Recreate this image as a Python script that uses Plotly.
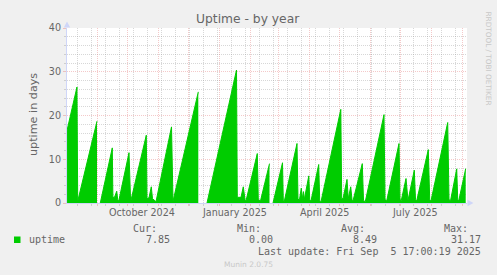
import plotly.graph_objects as go

# ---------------- data ----------------
dates = [
    "2024-08-01 18:00", "2024-08-11 16:00", "2024-08-12 10:00", "2024-08-31 17:00",
    "2024-09-01 12:00",
    "2024-09-04 00:00", "2024-09-16 00:00", "2024-09-16 14:00", "2024-09-18 05:00",
    "2024-09-20 10:00", "2024-09-21 10:00", "2024-09-22 10:00", "2024-10-02 17:00",
    "2024-10-04 08:00", "2024-10-20 00:00", "2024-10-20 17:00", "2024-10-22 17:00",
    "2024-10-25 00:00", "2024-10-26 05:00", "2024-10-29 17:00", "2024-11-14 05:00",
    "2024-11-15 17:00", "2024-12-11 00:00",
    "2024-12-13 00:00",
    "2024-12-19 17:00", "2025-01-18 05:00", "2025-01-19 00:00", "2025-01-22 17:00",
    "2025-01-25 00:00", "2025-01-26 17:00", "2025-01-27 17:00", "2025-02-08 00:00",
    "2025-02-09 00:00", "2025-02-11 05:00", "2025-02-20 05:00",
    "2025-02-22 00:00",
    "2025-02-23 17:00", "2025-03-05 05:00", "2025-03-06 00:00", "2025-03-07 00:00",
    "2025-03-19 17:00", "2025-03-20 17:00", "2025-03-22 05:00", "2025-03-24 00:00",
    "2025-03-25 05:00", "2025-03-26 05:00", "2025-03-27 00:00", "2025-03-31 12:00",
    "2025-04-01 10:00", "2025-04-02 17:00", "2025-04-10 10:00", "2025-04-11 10:00",
    "2025-04-12 17:00", "2025-05-02 12:00", "2025-05-03 10:00", "2025-05-04 17:00",
    "2025-05-08 17:00", "2025-05-10 00:00", "2025-05-12 10:00", "2025-05-13 17:00",
    "2025-05-14 17:00", "2025-05-24 00:00", "2025-05-25 05:00", "2025-05-27 00:00",
    "2025-06-14 17:00", "2025-06-15 17:00", "2025-06-17 10:00", "2025-06-29 17:00",
    "2025-06-30 17:00", "2025-07-02 00:00", "2025-07-06 17:00", "2025-07-07 22:00",
    "2025-07-08 17:00", "2025-07-15 00:00", "2025-07-16 05:00", "2025-07-17 10:00",
    "2025-07-29 00:00", "2025-07-30 10:00", "2025-07-31 17:00", "2025-08-17 10:00",
    "2025-08-18 17:00", "2025-08-20 05:00", "2025-08-26 10:00", "2025-08-27 10:00",
    "2025-08-28 10:00", "2025-09-04 10:00",
]
uptime = [
    16.6, 26.5, 0.4, 18.7,
    None,
    0.0, 12.6, 1.3, 1.3,
    2.7, 0.8, 0.4, 11.5,
    0.3, 15.5, 1.0, 1.2,
    3.7, 1.0, 0.3, 17.4,
    0.4, 25.4,
    None,
    0.0, 30.4, 1.3, 1.3,
    3.7, 0.8, 0.5, 11.3,
    0.8, 0.5, 9.0,
    None,
    0.0, 9.2, 0.6, 0.4,
    13.6, 0.8, 0.8, 3.4,
    1.0, 2.6, 0.8, 6.2,
    0.8, 0.5, 8.8, 0.6,
    0.3, 21.4, 1.0, 1.0,
    5.4, 1.0, 3.7, 0.8,
    0.5, 9.0, 0.6, 0.3,
    20.2, 0.8, 0.5, 13.6,
    0.8, 0.6, 5.6, 0.8,
    0.6, 7.5, 0.8, 0.5,
    12.2, 0.8, 0.5, 18.4,
    0.8, 0.5, 7.8, 0.8,
    0.5, 7.85,
]

label_dates = ["2024-10-16", "2025-01-16", "2025-04-16", "2025-07-16"]
label_text = ["October 2024", "January 2025", "April 2025", "July 2025"]
stat_names = ["Cur:", "Min:", "Avg:", "Max:"]
stat_values = ["7.85", "0.00", "8.49", "31.17"]
series_name = "uptime"
title_text = "Uptime - by year"
y_title = "uptime in days"
last_update = "Last update: Fri Sep\u00a0 5 17:00:19 2025"
footer = "Munin 2.0.75"
side_text = "RRDTOOL / TOBI OETIKER"
x_start, x_end = "2024-08-01 17:00", "2025-09-05 17:00"

# ---------------- styling ----------------
W, H = 497, 275
L, T, PW, PH = 67, 28, 400, 175
GREEN = "#00CC00"
FONT_C = "#666666"
AXIS_C = "#CFD6F8"
MGRID = "rgba(228,120,120,0.40)"
GRID = "rgba(150,150,150,0.38)"
SANS = "DejaVu Sans"
MONO = "DejaVu Sans Mono"


def px(x):
    return (x - L) / PW


def py(y):
    return 1 - (y - T) / PH


fig = go.Figure()

# split the series at the gaps (None) so each run gets its own filled area
segments, cur = [], ([], [])
for d, v in zip(dates, uptime):
    if v is None:
        if cur[0]:
            segments.append(cur)
        cur = ([], [])
    else:
        cur[0].append(d)
        cur[1].append(v)
if cur[0]:
    segments.append(cur)

for sx, sy in segments:
    fig.add_trace(go.Scatter(
        x=sx, y=sy, mode="lines", fill="tozeroy", fillcolor=GREEN,
        line=dict(color=GREEN, width=1),
        showlegend=False, hoverinfo="skip",
    ))

fig.update_layout(
    width=W, height=H,
    margin=dict(l=L, r=W - L - PW, t=T, b=H - T - PH),
    paper_bgcolor="#F0F0F0", plot_bgcolor="#FFFFFF",
    font=dict(family=SANS, color=FONT_C, size=10),
    showlegend=False,
)

fig.update_xaxes(
    type="date", range=[x_start, x_end], fixedrange=True,
    tick0="2024-08-01", dtick="M1", showticklabels=False,
    showgrid=True, gridcolor=MGRID, griddash="1px,1px", gridwidth=1,
    ticks="outside", ticklen=2, tickcolor=MGRID,
    showline=True, linecolor=AXIS_C, linewidth=1, zeroline=False,
    minor=dict(tick0="2024-08-12", dtick=14 * 86400000, showgrid=True,
               gridcolor=GRID, griddash="1px,1px", ticks="outside",
               ticklen=2, tickcolor=GRID),
)
fig.update_yaxes(
    range=[0, 40], dtick=10, fixedrange=True,
    showgrid=True, gridcolor=MGRID, griddash="1px,1px", gridwidth=1,
    ticks="outside", ticklen=3, tickcolor=MGRID,
    tickfont=dict(family=SANS, size=9.6, color=FONT_C),
    showline=True, linecolor=AXIS_C, linewidth=1, zeroline=False,
    minor=dict(dtick=2, showgrid=True, gridcolor=GRID, griddash="1px,1px",
               ticks="outside", ticklen=2, tickcolor=GRID),
)

# axis arrows
fig.add_shape(type="path", xref="paper", yref="paper",
              path=f"M {px(63.8)} {py(27.5)} L {px(70.2)} {py(27.5)} L {px(67)} {py(21.5)} Z",
              fillcolor=AXIS_C, line=dict(width=0))
fig.add_shape(type="path", xref="paper", yref="paper",
              path=f"M {px(467.5)} {py(199.8)} L {px(467.5)} {py(206.2)} L {px(473.5)} {py(203)} Z",
              fillcolor=AXIS_C, line=dict(width=0))

ann = []
ann.append(dict(text=title_text, x=px(248), y=py(19), xref="paper", yref="paper",
                xanchor="center", yanchor="middle", showarrow=False,
                font=dict(family=SANS, size=12.3, color=FONT_C)))
ann.append(dict(text=y_title, x=px(33), y=py(115), xref="paper", yref="paper",
                xanchor="center", yanchor="middle", textangle=-90, showarrow=False,
                font=dict(family=SANS, size=11.2, color=FONT_C)))
for d, t in zip(label_dates, label_text):
    ann.append(dict(text=t, x=d, y=py(212), xref="x", yref="paper",
                    xanchor="center", yanchor="middle", showarrow=False,
                    font=dict(family=SANS, size=9.6, color=FONT_C)))

name_right = [159.3, 262.7, 366.7, 470.0]
value_right = [171.7, 275.0, 379.0, 482.7]
for n, v, xn, xv in zip(stat_names, stat_values, name_right, value_right):
    ann.append(dict(text=n, x=px(xn), y=py(228.3), xref="paper", yref="paper",
                    xanchor="right", yanchor="middle", showarrow=False,
                    font=dict(family=MONO, size=10, color=FONT_C)))
    ann.append(dict(text=v, x=px(xv), y=py(239.7), xref="paper", yref="paper",
                    xanchor="right", yanchor="middle", showarrow=False,
                    font=dict(family=MONO, size=10, color=FONT_C)))
ann.append(dict(text=series_name, x=px(26.5), y=py(239.7), xref="paper", yref="paper",
                xanchor="left", yanchor="middle", showarrow=False,
                font=dict(family=MONO, size=10, color=FONT_C)))
ann.append(dict(text=last_update, x=px(482.7), y=py(251.7), xref="paper", yref="paper",
                xanchor="right", yanchor="middle", showarrow=False,
                font=dict(family=MONO, size=10, color=FONT_C)))
ann.append(dict(text=footer, x=px(248), y=py(264), xref="paper", yref="paper",
                xanchor="center", yanchor="middle", showarrow=False,
                font=dict(family=SANS, size=7.5, color="#C8C8C8")))
ann.append(dict(text=side_text, x=px(488.5), y=py(58), xref="paper", yref="paper",
                xanchor="center", yanchor="middle", textangle=90, showarrow=False,
                font=dict(family=SANS, size=7.3, color="#C8C8C8")))
fig.update_layout(annotations=ann)

# legend colour box
fig.add_shape(type="rect", xref="paper", yref="paper",
              x0=px(14), x1=px(20.5), y0=py(243), y1=py(236.5),
              fillcolor=GREEN, line=dict(width=0))

fig.write_html("out.html")
